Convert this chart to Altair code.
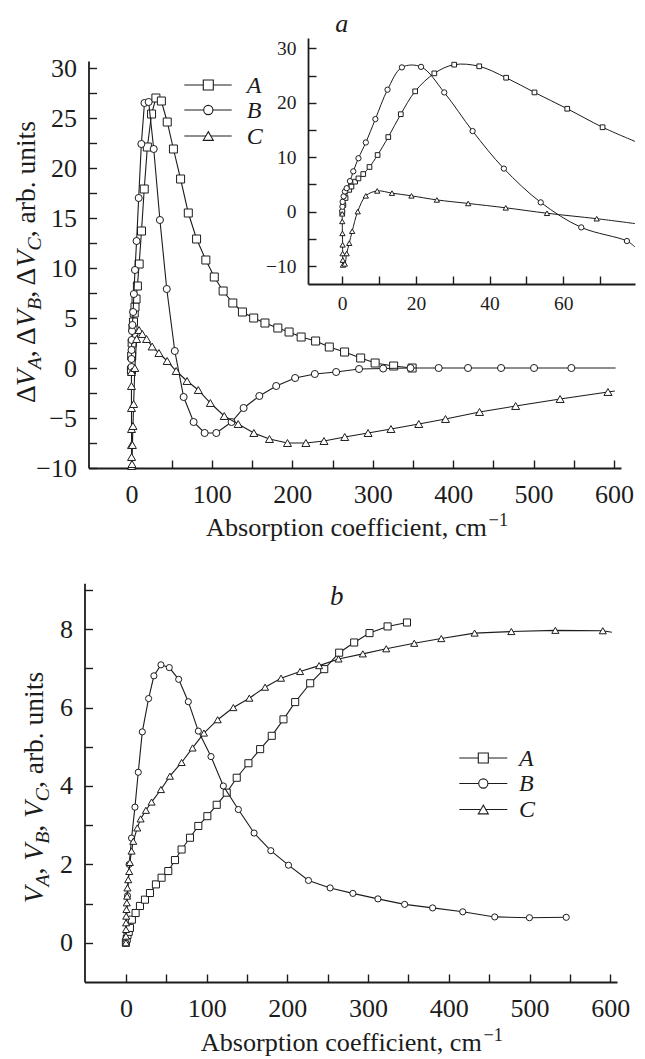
import altair as alt
import pandas as pd

FONT = "Liberation Serif"
INK = "#1c1c1c"

# ---------------- panel a : ΔV (main plot; the inset re-uses the same series) ----------------
a_A_x = [0, 0.3, 0.9, 1.9, 2.5, 3.5, 4.4, 5.7, 7.4, 9.6, 12.5, 15.9, 19.8, 25.0, 30.4, 37.2, 44.5, 52.2,
         61.1, 70.7, 81, 92.5, 103, 114, 126, 138, 152, 166, 182, 196, 211, 229, 246, 265, 285, 303, 326, 349]
a_A_y = [-0.2, 1.2, 2.5, 4.0, 4.6, 5.5, 6.1, 6.9, 8.2, 10.4, 13.7, 17.9, 22.1, 25.4, 27.0, 26.7, 24.6, 21.9,
         18.9, 15.5, 12.9, 10.8, 9.1, 7.7, 6.5, 5.6, 5.0, 4.5, 4.0, 3.6, 3.1, 2.7, 2.1, 1.6, 1.0, 0.5, 0.2, 0.0]

a_B_x = [0, 0.05, 0.1, 0.37, 0.73, 1.2, 2.1, 3.0, 4.4, 6.4, 9.0, 12.3, 16.2, 21.4, 27.7, 35.4, 43.9, 53.9,
         64.9, 77.3, 91, 105.5, 124.5, 139.5, 159, 180, 203.5, 228, 254.5, 283, 313, 347, 382, 418.5,
         459.6, 500.6, 547, 602]
a_B_y = [0.1, 0.9, 1.8, 2.8, 3.7, 4.3, 5.6, 7.4, 9.8, 12.7, 17.0, 22.4, 26.5, 26.6, 21.9, 14.8, 7.9, 1.7,
         -2.9, -5.4, -6.5, -6.5, -5.4, -4.0, -2.8, -1.8, -1.0, -0.6, -0.4, -0.1, -0.05, 0, 0, 0,
         0, 0, 0, 0]
a_B_marker = [1] * 37 + [0]

a_C_x = [0, 0, 0.05, 0.1, 0.1, 0.15, 0.2, 0.7, 1.2, 1.9, 2.7, 4.2, 6.4, 9.5, 13.5, 18.8, 25.7, 34.2,
         44.4, 55.6, 69.1, 83.1, 98.1, 115.4, 132.7, 152.2, 171.6, 194, 216.9, 239.4, 265.2, 294.2,
         322.7, 357.3, 390.5, 432.8, 477.7, 533, 592.5, 601]
a_C_y = [-0.4, -1.8, -4.0, -6.1, -7.7, -8.9, -9.8, -9.6, -7.7, -5.8, -3.6, 0.0, 2.9, 3.8, 3.4, 2.9, 2.15, 1.5,
         0.7, -0.3, -1.3, -2.2, -3.5, -4.8, -5.6, -6.5, -7.1, -7.5, -7.5, -7.3, -6.9, -6.5,
         -6.1, -5.6, -5.1, -4.4, -3.8, -3.1, -2.4, -2.3]
a_C_marker = [1] * 39 + [0]

# ---------------- panel b : V ----------------
b_A_x = [0, 1, 2, 3.5, 5, 7.4, 12, 17.4, 23.6, 29.8, 37.2, 44.2, 52.5, 60.8, 69, 79.4, 89.7, 100.9, 112.5,
         124.9, 137.3, 151.8, 166.3, 180.7, 195.2, 209.7, 228.3, 245.7, 264.2, 282.8, 301.8, 324.2, 348.2]
b_A_y = [0, 0.1, 0.2, 0.28, 0.38, 0.59, 0.76, 0.94, 1.1, 1.27, 1.49, 1.66, 1.83, 2.11, 2.38, 2.68, 2.98, 3.23,
         3.52, 3.83, 4.21, 4.58, 4.94, 5.28, 5.7, 6.14, 6.62, 6.98, 7.4, 7.66, 7.9, 8.07, 8.17]

b_B_x = [0, 2, 4, 7, 11.2, 15.3, 20.3, 28.1, 34.7, 43.4, 53.7, 65.4, 77.3, 89.7, 105.4, 120.7, 139.3, 158.8,
         179.5, 201.4, 226.2, 253, 281.2, 312.2, 345.3, 380, 417.3, 456.9, 499.9, 545.5]
b_B_y = [0, 1.2, 2.0, 2.67, 3.46, 4.35, 5.38, 6.23, 6.81, 7.09, 7.02, 6.72, 6.15, 5.4, 4.75, 4.0, 3.4, 2.8,
         2.35, 1.98, 1.59, 1.4, 1.26, 1.12, 0.98, 0.89, 0.79, 0.66, 0.64, 0.65]

b_C_x = [0, 0.05, 0.1, 0.2, 0.4, 0.7, 1.1, 1.5, 1.9, 2.9, 4.1, 4.9, 7.0, 9.1, 14.1, 18.2, 24.8, 31.8, 43.4,
         54.5, 69, 82.6, 96.7, 113.7, 133.1, 152.9, 172.4, 192.2, 215.8, 239.4, 263.4, 293.5, 322.5, 357.2,
         390.7, 432, 477.5, 532, 590.8, 602]
b_C_y = [0, 0.17, 0.34, 0.51, 0.68, 0.85, 1.02, 1.19, 1.4, 1.61, 1.82, 2.05, 2.34, 2.59, 2.93, 3.16, 3.38,
         3.59, 3.91, 4.25, 4.6, 4.97, 5.35, 5.69, 6.0, 6.24, 6.52, 6.75, 6.92, 7.07, 7.24, 7.37, 7.5, 7.64,
         7.76, 7.9, 7.94, 7.97, 7.96, 7.92]
b_C_marker = [1] * 39 + [0]

# ---------------- tick values / labels ----------------
a_x_labels = [0, 100, 200, 300, 400, 500, 600]
a_x_ticks = [0, 50, 100, 150, 200, 250, 300, 350, 400, 450, 500, 550, 600]
a_y_labels = [-10, -5, 0, 5, 10, 15, 20, 25, 30]
a_y_ticks = [-10, -7.5, -5, -2.5, 0, 2.5, 5, 7.5, 10, 12.5, 15, 17.5, 20, 22.5, 25, 27.5, 30]
i_x_labels = [0, 20, 40, 60]
i_x_ticks = [0, 10, 20, 30, 40, 50, 60, 70]
i_y_labels = [-10, 0, 10, 20, 30]
i_y_ticks = [-10, -5, 0, 5, 10, 15, 20, 25, 30]
b_x_labels = [0, 100, 200, 300, 400, 500, 600]
b_x_ticks = [0, 50, 100, 150, 200, 250, 300, 350, 400, 450, 500, 550, 600]
b_y_labels = [0, 2, 4, 6, 8]
b_y_ticks = [0, 1, 2, 3, 4, 5, 6, 7, 8, 9]
legend_labels = ["A", "B", "C"]
x_title = "Absorption coefficient, cm"
x_title_sup = "\u22121"

# ---------------- layout helpers ----------------
W, H = 629, 1051
M = 8  # page margin


def P(v):
    return v - M


def S(domain, rng, clamp=False):
    return alt.Scale(domain=domain, range=[P(rng[0]), P(rng[1])], nice=False, zero=False, clamp=clamp)


XA = S([-53.4, 608.7], [88.5, 621])
YA = S([-10, 30.7], [468, 61])
XI = S([-9.3, 79.5], [308, 635], clamp=True)
YI = S([-13.3, 31.9], [284, 38])
XB = S([-51.3, 608.4], [84.5, 617])
YB = S([-1, 9.17], [982, 583.3])


def lab_axis(orient, values, offset, size, pad):
    return alt.Axis(orient=orient, values=values, offset=offset, ticks=False, domain=True, labels=True,
                    title=None, grid=False, labelFontSize=size, labelPadding=pad, format="d",
                    labelFlush=False, labelOverlap=False)


def tick_axis(orient, values, offset):
    return alt.Axis(orient=orient, values=values, offset=offset, ticks=True, tickSize=8, domain=False,
                    labels=False, title=None, grid=False)


def frame(x, y, marker=None):
    n = len(x)
    return pd.DataFrame({"x": x, "y": y, "i": list(range(n)), "m": marker if marker else [1] * n})


def inset_frame(x, y, marker, xmax):
    marker = marker if marker else [1] * len(x)
    keep = [k for k in range(len(x)) if x[k] <= xmax]
    if keep[-1] + 1 < len(x):
        keep.append(keep[-1] + 1)
    return pd.DataFrame({"x": [x[k] for k in keep], "y": [y[k] for k in keep],
                         "i": list(range(len(keep))),
                         "m": [marker[k] if x[k] <= xmax else 0 for k in keep]})


def series(df, xs, ys, shape, size, sw=1.1, interp="linear", axes=(None, None, None, None)):
    line = alt.Chart(df).mark_line(color=INK, strokeWidth=sw, interpolate=interp).encode(
        x=alt.X("x:Q", scale=xs, axis=axes[0]), y=alt.Y("y:Q", scale=ys, axis=axes[1]), order="i:Q")
    pts = alt.Chart(df).transform_filter("datum.m == 1").mark_point(
        shape=shape, size=size, filled=True, fill="white", stroke=INK, strokeWidth=1, opacity=1).encode(
        x=alt.X("x:Q", scale=xs, axis=axes[2]), y=alt.Y("y:Q", scale=ys, axis=axes[3]))
    return [line, pts]


REG = {" ": 250, ",": 250, ".": 250, "a": 444, "b": 500, "c": 444, "e": 444, "f": 333, "i": 278,
       "m": 778, "n": 500, "o": 500, "p": 500, "r": 333, "s": 389, "t": 278, "u": 500, "A": 722,
       "\u0394": 612}
ITA = {"V": 611, "A": 611, "B": 611, "C": 667}


def tw(s, table, f):
    return sum(table.get(c, 500) for c in s) * f / 1000.0


def one(text):
    return pd.DataFrame({"t": [text]})


def vtitle(pieces, bx, y0, f):
    out = []
    y = P(y0)
    for text, kind in pieces:
        if kind == "r":
            fs, style, table, dx = f, "normal", REG, 0
        elif kind == "i":
            fs, style, table, dx = f, "italic", ITA, 0
        else:
            fs, style, table, dx = 0.72 * f, "italic", ITA, 0.22 * f
        out.append(alt.Chart(one(text)).mark_text(
            font=FONT, fontSize=fs, fontStyle=style, angle=270, align="left", baseline="alphabetic",
            color=INK).encode(x=alt.value(P(bx) + dx), y=alt.value(y), text="t:N"))
        y -= tw(text, table, fs)
    return out


def htitle(x0, base_y, f):
    w = tw(x_title, REG, f)
    return [
        alt.Chart(one(x_title)).mark_text(font=FONT, fontSize=f, align="left", baseline="alphabetic",
                                          color=INK).encode(x=alt.value(P(x0)), y=alt.value(P(base_y)), text="t:N"),
        alt.Chart(one(x_title_sup)).mark_text(font=FONT, fontSize=0.7 * f, align="left", baseline="alphabetic",
                                              color=INK).encode(x=alt.value(P(x0) + w + 1),
                                                                y=alt.value(P(base_y) - 0.4 * f), text="t:N"),
    ]


def legend(x0, x1, xm, xt, rows, fsize, sizes):
    out = []
    shapes = ["square", "circle", "triangle-up"]
    for lab, shp, sz, yy in zip(legend_labels, shapes, sizes, rows):
        out.append(alt.Chart(one(lab)).mark_rule(color=INK, strokeWidth=1.2).encode(
            x=alt.value(P(x0)), x2=alt.value(P(x1)), y=alt.value(P(yy))))
        out.append(alt.Chart(one(lab)).mark_point(shape=shp, size=sz, filled=True, fill="white", stroke=INK,
                                                  strokeWidth=1.1, opacity=1).encode(
            x=alt.value(P(xm)), y=alt.value(P(yy))))
        out.append(alt.Chart(one(lab)).mark_text(font=FONT, fontSize=fsize, fontStyle="italic", align="left",
                                                 baseline="alphabetic", color=INK).encode(
            x=alt.value(P(xt)), y=alt.value(P(yy) + 0.33 * fsize), text="t:N"))
    return out


def letter(ch, x, base_y, size=27):
    return alt.Chart(one(ch)).mark_text(font=FONT, fontSize=size, fontStyle="italic", align="center",
                                        baseline="alphabetic", color=INK).encode(
        x=alt.value(P(x)), y=alt.value(P(base_y)), text="t:N")


layers = []

# ---- panel a main ----
ax_a = (lab_axis("bottom", a_x_labels, -(H - P(468)), 26, 13),
        lab_axis("left", a_y_labels, -P(88.5), 26, 12),
        tick_axis("top", a_x_ticks, -P(468)),
        tick_axis("right", a_y_ticks, -(W - P(88.5))))
layers += series(frame(a_A_x, a_A_y), XA, YA, "square", 64, axes=ax_a)
layers += series(frame(a_B_x, a_B_y, a_B_marker), XA, YA, "circle", 50)
layers += series(frame(a_C_x, a_C_y, a_C_marker), XA, YA, "triangle-up", 64)

# ---- panel a inset ----
ax_i = (lab_axis("bottom", i_x_labels, -(H - P(284)), 19.5, 10),
        lab_axis("left", i_y_labels, -P(308), 19.5, 12),
        tick_axis("top", i_x_ticks, -P(284)),
        tick_axis("right", i_y_ticks, -(W - P(308))))
layers += series(inset_frame(a_A_x, a_A_y, None, 79.5), XI, YI, "square", 22, sw=1.0,
                 interp="catmull-rom", axes=ax_i)
layers += series(inset_frame(a_B_x, a_B_y, a_B_marker, 79.5), XI, YI, "circle", 28, sw=1.0,
                 interp="catmull-rom")
layers += series(inset_frame(a_C_x, a_C_y, a_C_marker, 79.5), XI, YI, "triangle-up", 28, sw=1.0,
                 interp="catmull-rom")

# ---- panel b ----
ax_b = (lab_axis("bottom", b_x_labels, -(H - P(982)), 26, 13),
        lab_axis("left", b_y_labels, -P(84.5), 26, 12),
        tick_axis("top", b_x_ticks, -P(982)),
        tick_axis("right", b_y_ticks, -(W - P(84.5))))
layers += series(frame(b_A_x, b_A_y), XB, YB, "square", 50, axes=ax_b)
layers += series(frame(b_B_x, b_B_y), XB, YB, "circle", 38)
layers += series(frame(b_C_x, b_C_y, b_C_marker), XB, YB, "triangle-up", 50)

# ---- legends ----
layers += legend(184.3, 231.7, 208.3, 246.7, [85, 110, 136], 24, [100, 85, 100])
layers += legend(459.3, 507.3, 483.3, 519, [758, 783.5, 809.5], 24, [100, 85, 100])

# ---- titles ----
layers += vtitle([("\u0394", "r"), ("V", "i"), ("A", "s"), (", \u0394", "r"), ("V", "i"), ("B", "s"),
                  (", \u0394", "r"), ("V", "i"), ("C", "s"), (", arb. units", "r")], 34.9, 403, 27.5)
layers += vtitle([("V", "i"), ("A", "s"), (", ", "r"), ("V", "i"), ("B", "s"), (", ", "r"),
                  ("V", "i"), ("C", "s"), (", arb. units", "r")], 43.2, 903.3, 27.5)
layers += htitle(206, 536, 26.2)
layers += htitle(200.8, 1051, 26.2)
layers.append(letter("a", 341.7, 31.5, 26))
layers.append(letter("b", 336.7, 605))

chart = alt.layer(*layers).resolve_scale(x="independent", y="independent").properties(
    width=W, height=H, padding=0, autosize=alt.AutoSizeParams(type="none")
).configure_view(stroke=None).configure_axis(
    labelFont=FONT, labelColor=INK, domainColor=INK, tickColor=INK, domainWidth=1.8, tickWidth=1.4,
    grid=False
)

chart.save("out.html", embed_options={"renderer": "svg", "actions": False})
